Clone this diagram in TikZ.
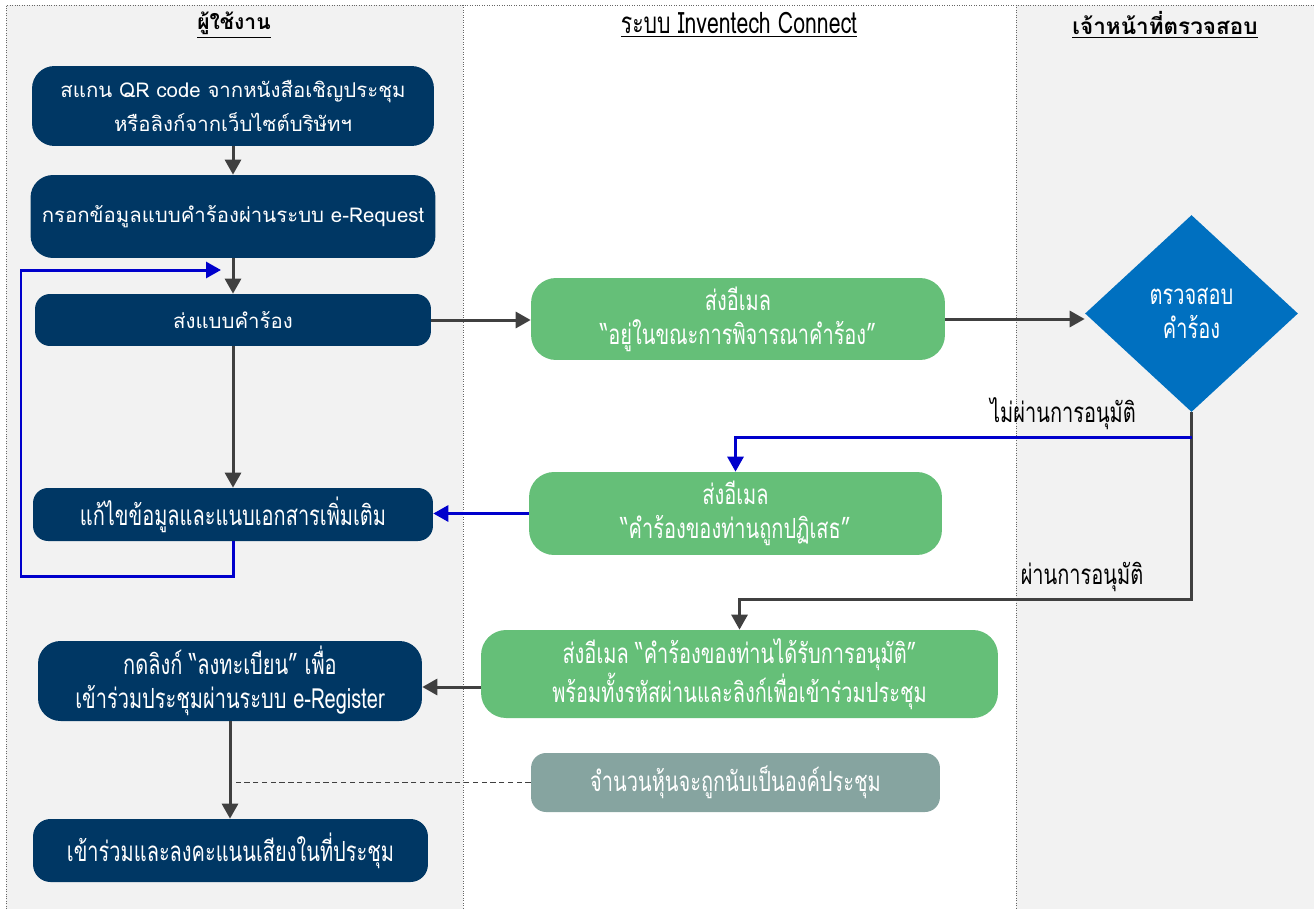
\documentclass[tikz,border=0pt]{standalone}
\usepackage{fontspec}
\setmainfont{Loma}[Script=Thai]
\newfontfamily\thaicond[Script=Thai,FakeStretch=0.72]{Loma}
\usetikzlibrary{shapes.geometric,arrows.meta}

\definecolor{navy}{HTML}{003764}
\definecolor{mailgreen}{HTML}{65BF78}
\definecolor{quorumgray}{HTML}{86A4A0}
\definecolor{checkblue}{HTML}{0070C0}
\definecolor{lanegray}{HTML}{F2F2F2}
\definecolor{flowdark}{HTML}{404040}
\definecolor{loopblue}{HTML}{0000CC}

\tikzset{
  userbox/.style={fill=navy, text=white, rounded corners=0.45cm, align=center,
    inner sep=0pt, font=\fontsize{11.6}{19.5}\selectfont},
  userboxcond/.style={userbox, font=\thaicond\fontsize{15.8}{19.5}\selectfont},
  mailbox/.style={fill=mailgreen, text=white, rounded corners=0.5cm, align=center,
    inner sep=0pt, font=\thaicond\fontsize{15.8}{19.5}\selectfont},
  quorumbox/.style={mailbox, fill=quorumgray, rounded corners=0.3cm},
  checkbox/.style={diamond, fill=checkblue, text=white, align=center, inner sep=0pt,
    font=\thaicond\fontsize{15.8}{19.5}\selectfont},
  flow/.style={draw=flowdark, line width=0.06cm, -{Triangle[length=0.3cm,width=0.32cm]}},
  loopflow/.style={flow, draw=loopblue, -{Triangle[length=0.3cm,width=0.32cm]}},
  lanehead/.style={font=\bfseries\fontsize{12}{14}\selectfont},
  decision/.style={font=\thaicond\fontsize{15.8}{17}\selectfont, text=black}
}

\begin{document}
\begin{tikzpicture}[x=0.02cm, y=-0.02cm]
    \useasboundingbox (0,0) rectangle (1314,909);
    % Swimlanes: user, system, reviewer
    \fill[lanegray] (6,5) rectangle (463,909);
    \fill[lanegray] (1016,5) rectangle (1314,909);
    \draw[densely dotted, gray!80!black] (6,909) -- (6,5) -- (1314,5);
    \draw[densely dotted, gray!80!black] (463,5) -- (463,909);
    \draw[densely dotted, gray!80!black] (1016,5) -- (1016,909);
    \node[lanehead] (headuser) at (234,25) {\underline{ผู้ใช้งาน}};
    \node[font=\thaicond\fontsize{16.8}{18}\selectfont] (headsystem) at (739,25) {\underline{ระบบ Inventech Connect}};
    \node[lanehead, font=\bfseries\fontsize{12.8}{14}\selectfont] (headcheck) at (1165,25) {\underline{เจ้าหน้าที่ตรวจสอบ}};

    % User lane
    \node[userbox, minimum width=8.04cm, minimum height=1.6cm] (scan) at (233,106)
        {สแกน QR code จากหนังสือเชิญประชุม\\หรือลิงก์จากเว็บไซต์บริษัทฯ};
    \node[userbox, minimum width=8.1cm, minimum height=1.66cm] (fill) at (233,216.5)
        {กรอกข้อมูลแบบคำร้องผ่านระบบ e-Request};
    \node[userbox, minimum width=7.92cm, minimum height=1.04cm, rounded corners=0.3cm] (submit) at (233,320)
        {ส่งแบบคำร้อง};
    \node[userboxcond, minimum width=8cm, minimum height=1.06cm, rounded corners=0.3cm] (revise) at (233,514.5)
        {แก้ไขข้อมูลและแนบเอกสารเพิ่มเติม};
    \node[userboxcond, minimum width=7.68cm, minimum height=1.6cm] (register) at (230,681)
        {กดลิงก์ “ลงทะเบียน” เพื่อ\\เข้าร่วมประชุมผ่านระบบ e-Register};
    \node[userboxcond, minimum width=7.9cm, minimum height=1.26cm, rounded corners=0.35cm] (vote) at (230.5,850.5)
        {เข้าร่วมและลงคะแนนเสียงในที่ประชุม};

    % System lane
    \node[mailbox, minimum width=8.28cm, minimum height=1.64cm] (mailwait) at (738,319)
        {ส่งอีเมล\\“อยู่ในขณะการพิจารณาคำร้อง”};
    \node[mailbox, minimum width=8.26cm, minimum height=1.66cm] (mailreject) at (735.5,513.5)
        {ส่งอีเมล\\“คำร้องของท่านถูกปฏิเสธ”};
    \node[mailbox, minimum width=10.34cm, minimum height=1.76cm] (mailok) at (739.5,674)
        {ส่งอีเมล “คำร้องของท่านได้รับการอนุมัติ”\\พร้อมทั้งรหัสผ่านและลิงก์เพื่อเข้าร่วมประชุม};
    \node[quorumbox, minimum width=8.18cm, minimum height=1.18cm] (quorum) at (735.5,782.5)
        {จำนวนหุ้นจะถูกนับเป็นองค์ประชุม};

    % Reviewer lane
    \node[checkbox, minimum width=4.26cm, minimum height=3.94cm] (check) at (1191.5,313.5)
        {ตรวจสอบ\\คำร้อง};

    % Connectors
    \coordinate (rejrow) at (0,437);
    \coordinate (okrow) at (0,599);
    \coordinate (loopleft) at (21,576);
    \coordinate (looptip) at (221,270);
    \draw[flow] (scan) -- (fill);
    \draw[flow] (fill) -- (submit);
    \draw[flow] (submit) -- (revise);
    \draw[flow] (submit.east) -- (submit.east -| mailwait.west);
    \draw[flow] (mailwait.east) -- (mailwait.east -| check.west);
    \draw[flow] (check.south) -- (check.south |- okrow) -| (mailok.north);
    \draw[loopflow] (check.south |- rejrow) -| (mailreject.north);
    \draw[loopflow] (mailreject.west) -- (mailreject.west -| revise.east);
    \draw[loopflow] (revise.south) |- (loopleft) |- (looptip);
    \draw[flow] ([yshift=-0.26cm]mailok.west) -- ([yshift=-0.26cm]mailok.west -| register.east);
    \draw[flow] (register.south) -- (register.south |- vote.north);
    \draw[densely dashed, flowdark, thin] (quorum.west) -- (quorum.west -| register.south);
    \node[decision] (rejlabel) at (1063,414) {ไม่ผ่านการอนุมัติ};
    \node[decision] (oklabel) at (1082,577) {ผ่านการอนุมัติ};
\end{tikzpicture}
\end{document}
